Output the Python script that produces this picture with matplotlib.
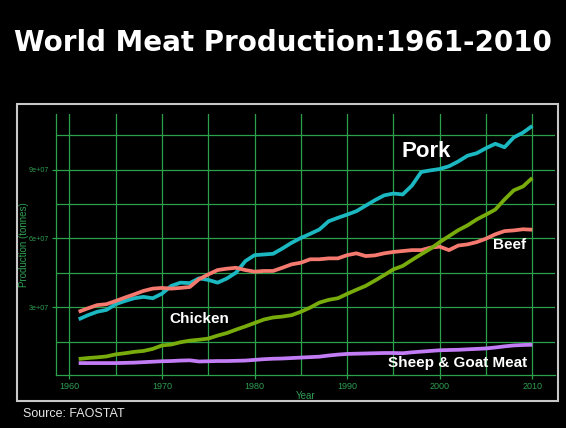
import numpy as np
import matplotlib
matplotlib.use("Agg")
import matplotlib.pyplot as plt
from matplotlib.patches import Rectangle

years = list(range(1961, 2011))

# million tonnes
pork = [24.7, 26.5, 28.0, 28.8, 31.3, 32.7, 33.9, 34.5, 33.9, 35.9,
        39.3, 40.7, 40.5, 42.6, 41.9, 40.7, 42.5, 45.1, 50.1, 52.7,
        53.0, 53.3, 55.6, 58.1, 60.2, 62.0, 63.9, 67.5, 69.0, 70.4,
        71.9, 74.3, 76.7, 78.8, 79.6, 79.2, 83.1, 89.0, 89.7, 90.3,
        91.5, 93.6, 96.1, 97.2, 99.4, 101.3, 99.8, 104.1, 106.2, 109.1]
beef = [28.0, 29.5, 30.9, 31.3, 32.7, 34.2, 35.6, 37.1, 38.1, 38.4,
        38.1, 38.4, 38.8, 42.2, 44.3, 46.2, 46.8, 47.2, 46.2, 45.5,
        45.8, 45.8, 47.2, 48.7, 49.4, 50.9, 50.9, 51.3, 51.3, 52.7,
        53.5, 52.3, 52.6, 53.5, 54.1, 54.5, 54.9, 54.9, 56.0, 56.4,
        54.9, 56.9, 57.4, 58.4, 59.9, 61.8, 63.2, 63.5, 64.0, 63.8]
chicken = [7.4, 7.8, 8.1, 8.5, 9.4, 9.9, 10.5, 10.9, 11.8, 13.3,
           13.7, 14.7, 15.4, 15.8, 16.3, 17.6, 18.7, 20.2, 21.6, 23.1,
           24.6, 25.5, 25.9, 26.5, 28.0, 29.8, 32.0, 33.2, 33.9, 35.8,
           37.6, 39.3, 41.6, 44.0, 46.5, 48.0, 50.6, 53.1, 55.5, 58.4,
           61.0, 63.6, 65.7, 68.3, 70.4, 72.6, 77.0, 81.0, 82.7, 86.4]
sheep_goat = [5.6, 5.6, 5.6, 5.6, 5.6, 5.7, 5.8, 6.0, 6.2, 6.4,
              6.5, 6.7, 6.8, 6.3, 6.4, 6.5, 6.5, 6.6, 6.7, 7.0,
              7.3, 7.5, 7.6, 7.8, 8.0, 8.2, 8.4, 8.9, 9.3, 9.6,
              9.7, 9.8, 9.9, 10.0, 10.0, 9.9, 10.3, 10.6, 10.9, 11.2,
              11.3, 11.4, 11.6, 11.8, 12.0, 12.4, 12.9, 13.3, 13.5, 13.6]

series = [
    ("Pork", pork, "#1cb8c2", (1998.5, 97.8e6), 16),
    ("Beef", beef, "#f47a70", (2007.5, 57.0e6), 11),
    ("Chicken", chicken, "#78ac0c", (1974.0, 24.8e6), 11),
    ("Sheep & Goat Meat", sheep_goat, "#c27cf5", (2001.9, 5.6e6), 11),
]

green = "#2da04e"
txt_green = "#2f9e50"

fig = plt.figure(figsize=(5.66, 4.28), dpi=100, facecolor="black")

# grey frame around the plot panel
fig.patches.append(Rectangle((17 / 566, 1 - 401 / 428), 541 / 566, 297 / 428,
                             transform=fig.transFigure, fill=False,
                             edgecolor="#c8c8c8", linewidth=1.5))

fig.text(0.5, 1 - 43 / 428, "World Meat Production:1961-2010", color="white",
         fontsize=20, fontweight="bold", ha="center", va="center",
         family="DejaVu Sans")
fig.text(23 / 566, 1 - 414 / 428, "Source: FAOSTAT", color="#e6e6e6",
         fontsize=9, ha="left", va="center", family="Liberation Sans")

ax = fig.add_axes([56 / 566, 53 / 428, 499 / 566, 261 / 428])
ax.set_facecolor("black")

for name, vals, color, pos, size in series:
    ax.plot(years, np.array(vals) * 1e6, color=color, linewidth=2.7,
            solid_capstyle="butt", zorder=3)
    ax.text(pos[0], pos[1], name, color="white", fontsize=size,
            fontweight="bold", ha="center", va="center",
            family="Liberation Sans", zorder=4)

ax.set_xlim(1958.55, 2012.45)
ax.set_ylim(0.04e7, 11.43e7)
ax.set_xticks([1960, 1970, 1980, 1990, 2000, 2010])
ax.set_xticks([1965, 1975, 1985, 1995, 2005], minor=True)
ax.set_yticks([3e7, 6e7, 9e7])
ax.set_yticklabels(["3e+07", "6e+07", "9e+07"])
ax.set_yticks([1.5e7, 4.5e7, 7.5e7, 10.5e7], minor=True)

ax.grid(True, which="both", color=green, linewidth=0.9, zorder=1)
ax.set_axisbelow(True)
for side in ["top", "right"]:
    ax.spines[side].set_visible(False)
for side in ["left", "bottom"]:
    ax.spines[side].set_color(green)
    ax.spines[side].set_linewidth(0.9)

ax.tick_params(which="major", colors=green, length=3, width=0.9, pad=2)
ax.tick_params(which="minor", length=0)
for lbl in ax.get_xticklabels():
    lbl.set_fontsize(6.5)
    lbl.set_family("Liberation Sans")
    lbl.set_color(txt_green)
for lbl in ax.get_yticklabels():
    lbl.set_fontsize(5.2)
    lbl.set_family("Liberation Sans")
    lbl.set_color(txt_green)

ax.set_xlabel("Year", color=txt_green, fontsize=7, family="Liberation Sans",
              labelpad=0)
ax.set_ylabel("Production (tonnes)", color=txt_green, fontsize=7,
              family="Liberation Sans", labelpad=0)

fig.savefig("out.png", dpi=100, facecolor="black")
